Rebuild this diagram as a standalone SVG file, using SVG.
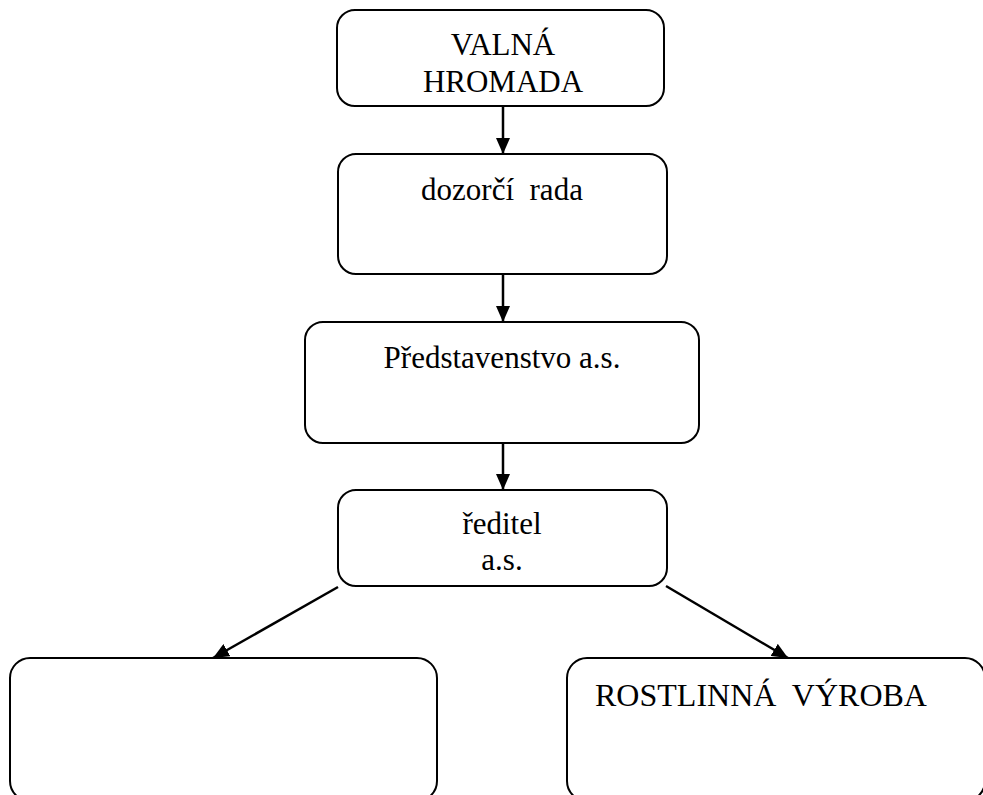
<svg xmlns="http://www.w3.org/2000/svg" width="983" height="795" viewBox="0 0 983 795">
<style>
.box{fill:#fff;stroke:#000;stroke-width:2}
.t{font-family:'Liberation Serif','Times New Roman',serif;font-size:31px;fill:#000}
.c{text-anchor:middle}
.conn{stroke:#000;stroke-width:2.5;fill:none}
</style>
<defs>
<marker id="ah" viewBox="0 0 16 14" refX="16" refY="7" markerWidth="16" markerHeight="14" markerUnits="userSpaceOnUse" orient="auto">
<path d="M0,0 L16,7 L0,14 z" fill="#000"/>
</marker>
</defs>
<rect width="983" height="795" fill="#fff"/>
<g id="connectors">
<line class="conn" x1="503" y1="106" x2="503" y2="154" marker-end="url(#ah)"/>
<line class="conn" x1="503" y1="274" x2="503" y2="322" marker-end="url(#ah)"/>
<line class="conn" x1="503" y1="443" x2="503" y2="490" marker-end="url(#ah)"/>
<line class="conn" x1="338" y1="587" x2="213" y2="658" marker-end="url(#ah)"/>
<line class="conn" x1="666" y1="586" x2="788" y2="658" marker-end="url(#ah)"/>
</g>
<g id="valna-hromada">
<rect class="box" x="337" y="10" width="327" height="96" rx="18"/>
<text class="t c" x="503" y="55">VALNÁ</text>
<text class="t c" x="503" y="92">HROMADA</text>
</g>
<g id="dozorci-rada">
<rect class="box" x="338" y="154" width="329" height="120" rx="18"/>
<text class="t c" x="502" y="200" xml:space="preserve">dozorčí  rada</text>
</g>
<g id="predstavenstvo">
<rect class="box" x="305" y="322" width="394" height="121" rx="18"/>
<text class="t c" x="502" y="368">Představenstvo a.s.</text>
</g>
<g id="reditel">
<rect class="box" x="338" y="490" width="329" height="96" rx="18"/>
<text class="t c" x="502" y="534">ředitel</text>
<text class="t c" x="502" y="570">a.s.</text>
</g>
<g id="left-box">
<rect class="box" x="10" y="658" width="427" height="143" rx="20"/>
</g>
<g id="rostlinna-vyroba">
<rect class="box" x="567" y="658" width="418" height="143" rx="20"/>
<text class="t" x="595" y="706" xml:space="preserve" textLength="332" lengthAdjust="spacingAndGlyphs">ROSTLINNÁ  VÝROBA</text>
</g>
</svg>
